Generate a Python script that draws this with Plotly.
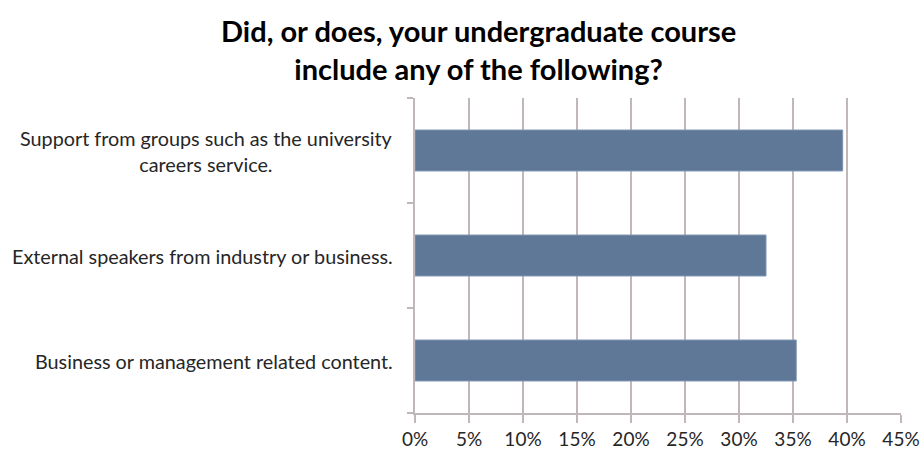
import plotly.graph_objects as go

title = "Did, or does, your undergraduate course<br>include any of the following?"
categories = [
    "Business or management related content.",
    "External speakers from industry or business.",
    "Support from groups such as the university<br>careers service.",
]
values = [0.353, 0.325, 0.396]
tick_vals = [0, 0.05, 0.10, 0.15, 0.20, 0.25, 0.30, 0.35, 0.40, 0.45]

FONT = "Lato"
GRID = "#c0b8b8"

fig = go.Figure()
fig.add_trace(go.Bar(
    y=categories, x=values, orientation="h",
    marker=dict(color="#5f7898", line=dict(color="#7f95b3", width=1)),
    width=0.39,
))

for c in categories:
    fig.add_annotation(
        x=0, xref="paper", y=c, yref="y", xanchor="right", xshift=-20,
        text=c, showarrow=False, align="center",
        font=dict(family=FONT, size=19.8, color="#262626"),
    )

fig.add_annotation(
    x=0.13, xref="paper", y=1, yref="paper", xanchor="center", yanchor="bottom",
    yshift=10, text=title, showarrow=False, align="center",
    font=dict(family=FONT, size=29, color="black", weight="bold"),
)

fig.update_layout(
    width=921, height=450,
    margin=dict(l=415, r=20, t=98, b=37),
    paper_bgcolor="white", plot_bgcolor="white",
    showlegend=False,
    xaxis=dict(range=[0, 0.45], tickvals=tick_vals, tickformat=".0%",
               showgrid=True, gridcolor=GRID, gridwidth=2,
               showline=True, linecolor=GRID, linewidth=2,
               ticks="outside", ticklen=8, tickcolor=GRID, tickwidth=2,
               zeroline=False, automargin=False,
               tickfont=dict(family=FONT, size=19, color="#262626")),
    yaxis=dict(showticklabels=False, showline=True, linecolor=GRID, linewidth=2,
               ticks="outside", tickson="boundaries", ticklen=6, tickcolor=GRID, tickwidth=2,
               showgrid=False, range=[-0.5, 2.5], automargin=False),
)

fig.write_html("out.html")
